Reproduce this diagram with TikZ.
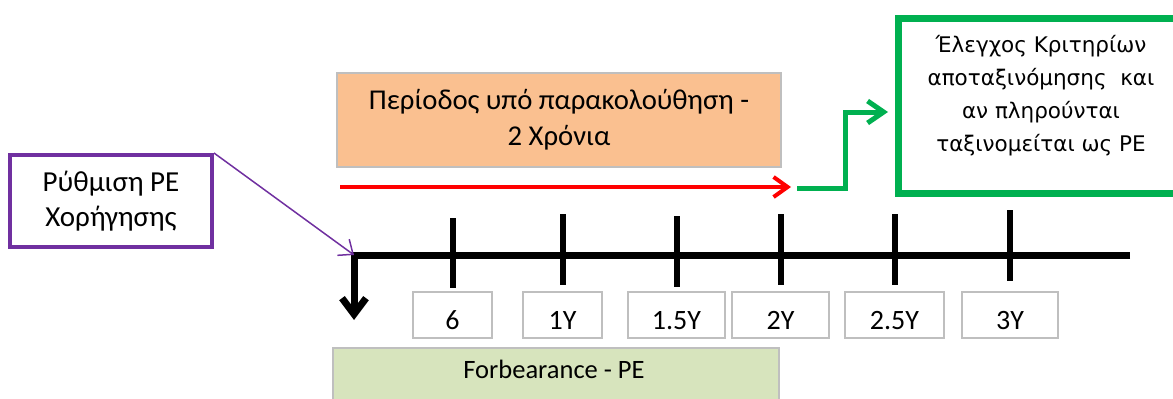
\documentclass[tikz,border=0pt]{standalone}
\usepackage{fontspec}
\setmainfont{Carlito}
\newfontfamily\critfont{DejaVu Sans}
\usetikzlibrary{arrows.meta,calc}
\definecolor{pur}{HTML}{7030A0}
\definecolor{grn}{HTML}{00B050}
\definecolor{orfill}{HTML}{FAC090}
\definecolor{lgfill}{HTML}{D7E4BD}
\definecolor{bgray}{HTML}{BFBFBF}
\begin{document}
\begin{tikzpicture}[x=1pt,y=-1pt,
  pbox/.style={draw=pur,line width=4pt,fill=white,minimum width=202pt,minimum height=92pt,align=center,inner sep=0pt,font=\fontsize{29}{35}\selectfont},
  obox/.style={draw=bgray,line width=2pt,fill=orfill,minimum width=444pt,minimum height=94pt,align=center,inner sep=0pt,font=\fontsize{28.7}{36}\selectfont},
  gbox/.style={draw=grn,line width=7pt,minimum width=291.5pt,minimum height=175pt,inner sep=0pt},
  crittext/.style={align=center,inner sep=0pt,font=\critfont\fontsize{21.5}{33}\selectfont},
  lbl/.style={draw=bgray,line width=1.5pt,fill=white,minimum height=46pt,inner sep=0pt,text height=29pt,text depth=0pt,font=\fontsize{28}{28}\selectfont},
  fbox/.style={draw=bgray,line width=1.5pt,fill=lgfill,minimum width=446pt,minimum height=64pt,inner sep=0pt},
  ftext/.style={inner sep=0pt,font=\fontsize{26.5}{26}\selectfont},
  tline/.style={line width=7pt,miter limit=10},
  tick/.style={line width=6pt},
]
\useasboundingbox (0,0) rectangle (1173,399);
\clip (0,0) rectangle (1173,399);

% boxes
\node[pbox] (ruth) at (111,201) {Ρύθμιση PE\\Χορήγησης};
\node[obox] (period) at (559,120) {Περίοδος υπό παρακολούθηση -\\2 Χρόνια};
\node[gbox] (critbox) at (1044.25,106) {};
\node[crittext] (crit) at (1041,96) {Έλεγχος Κριτηρίων\\αποταξινόμησης \ και\\αν πληρούνται\\ταξινομείται ως PE};

% label boxes
\node[lbl,minimum width=79pt] (l6) at (452.5,315) {6};
\node[lbl,minimum width=79pt] (l1) at (562.5,315) {1Y};
\node[lbl,minimum width=97pt] (l15) at (676.5,315) {1.5Y};
\node[lbl,minimum width=97pt] (l2) at (780.5,315) {2Y};
\node[lbl,minimum width=99pt] (l25) at (894.5,315) {2.5Y};
\node[lbl,minimum width=96pt] (l3) at (1010,315) {3Y};

% forbearance
\node[fbox] (forbox) at (556,380) {};
\node[ftext] (forb) at (554,369) {Forbearance - PE};

% timeline
\coordinate (t0) at (354,255);
\coordinate (t1) at (1130,255);
\coordinate (tdown) at (354,320);
\draw[tline,-{Straight Barb[length=16pt,width=24pt]}] (t1) -- (t0) -- (tdown);
\foreach \n/\a/\b in {l6/218/288,l1/214/285,l15/216/287,l2/214/285,l25/214/285,l3/210/281}
  \draw[tick] (\n.north |- 0,\a) -- (\n.north |- 0,\b);

% purple arrow
\draw[pur,line width=1.5pt,-{Straight Barb[length=12pt,width=20pt]}] (ruth.north east) -- (t0);

% red arrow
\coordinate (rs) at (340,187);
\coordinate (re) at (791,187);
\draw[red,line width=4pt,-{Straight Barb[length=14pt,width=20pt]}] (rs) -- (re);

% green arrow
\coordinate (gs) at (797,188);
\draw[grn,line width=5pt,-{Straight Barb[length=16pt,width=22pt]}] (gs) -- (845,188) |- ($(critbox.west)+(-7,6)$);
\end{tikzpicture}
\end{document}
